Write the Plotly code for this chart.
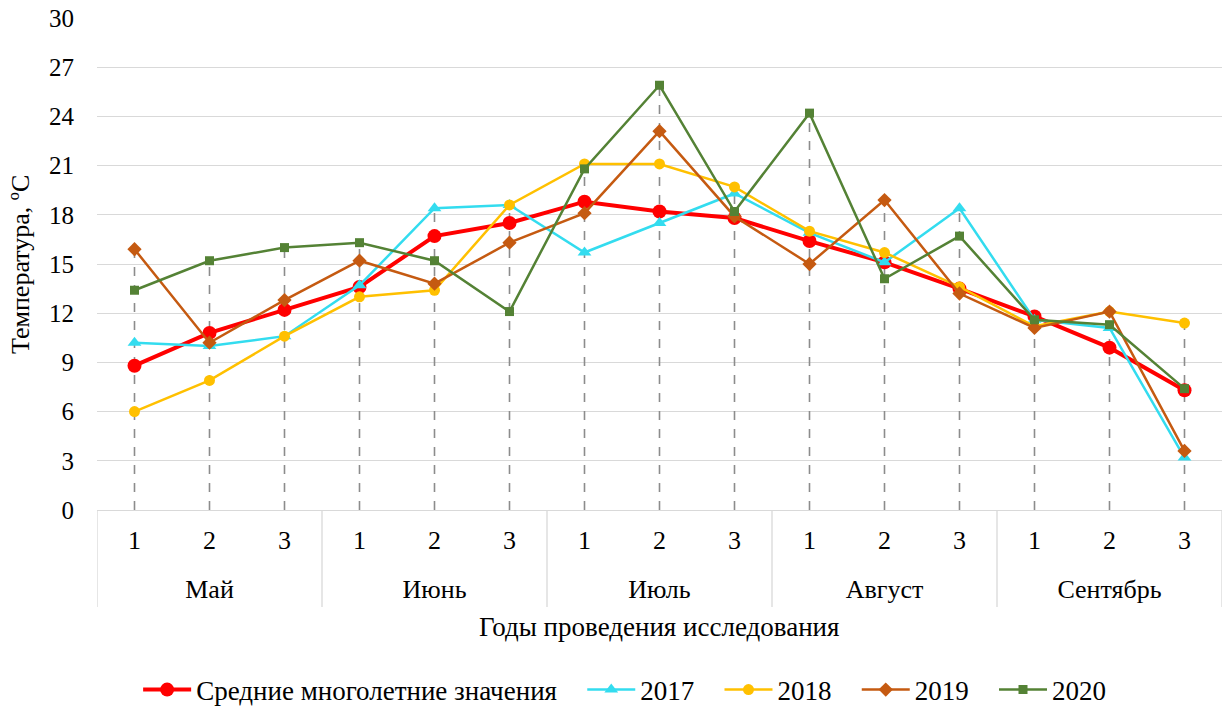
import plotly.graph_objects as go

months = ["Май", "Июнь", "Июль", "Август", "Сентябрь"]
decades = ["1", "2", "3"]

avg_vals = [8.8, 10.8, 12.2, 13.6, 16.7, 17.5, 18.8, 18.2, 17.8, 16.4, 15.1, 13.5, 11.8, 9.9, 7.3]
y2017 = [10.2, 10.0, 10.6, 13.7, 18.4, 18.6, 15.7, 17.5, 19.3, 16.9, 15.1, 18.4, 11.6, 11.1, 3.2]
y2018 = [6.0, 7.9, 10.6, 13.0, 13.4, 18.6, 21.1, 21.1, 19.7, 17.0, 15.7, 13.6, 11.2, 12.1, 11.4]
y2019 = [15.9, 10.2, 12.8, 15.2, 13.8, 16.3, 18.1, 23.1, 17.9, 15.0, 18.9, 13.2, 11.1, 12.1, 3.6]
y2020 = [13.4, 15.2, 16.0, 16.3, 15.2, 12.1, 20.8, 25.9, 18.2, 24.2, 14.1, 16.7, 11.6, 11.3, 7.4]

series_names = ["Средние многолетние значения", "2017", "2018", "2019", "2020"]
y_ticks = [0, 3, 6, 9, 12, 15, 18, 21, 24, 27, 30]

n = len(months) * len(decades)
xi = list(range(n))                       # category index positions
dec_labels = [d for _ in months for d in decades]
month_centers = [i * len(decades) + 1 for i in range(len(months))]
dividers = [i * len(decades) - 0.5 for i in range(len(months) + 1)]

FONT = "Liberation Serif, Times New Roman, serif"
GRID = "#d9d9d9"
PAD = "\u00a0\u00a0\u00a0"
fig = go.Figure()

all_series = [avg_vals, y2017, y2018, y2019, y2020]
# drop lines from highest point to the axis
for i in xi:
    top = max(s[i] for s in all_series)
    fig.add_trace(go.Scatter(
        x=[i, i], y=[0, top], mode="lines",
        line=dict(color="#8c8c8c", width=1.6, dash="dash"),
        showlegend=False, hoverinfo="skip"))

styles = [
    dict(color="#ff0000", width=4, symbol="circle", size=14),
    dict(color="#33dcef", width=2.5, symbol="triangle-up", size=12),
    dict(color="#ffc000", width=2.5, symbol="circle", size=11),
    dict(color="#c55a11", width=2.5, symbol="diamond", size=11),
    dict(color="#548235", width=2.5, symbol="square", size=9),
]
for k, (name, vals, st) in enumerate(zip(series_names, all_series, styles)):
    label = name + (PAD if k < len(series_names) - 1 else "")
    fig.add_trace(go.Scatter(
        x=xi, y=vals, mode="lines+markers", name=label,
        line=dict(color=st["color"], width=st["width"]),
        marker=dict(color=st["color"], symbol=st["symbol"], size=st["size"])))

# invisible trace to activate the month-label axis
fig.add_trace(go.Scatter(x=month_centers, y=[None] * len(months), xaxis="x2",
                         showlegend=False, hoverinfo="skip", mode="markers"))

shapes = [dict(type="line", xref="x", yref="paper", x0=d, x1=d, y0=0, y1=-0.197,
               line=dict(color=GRID, width=1.3)) for d in dividers]

fig.update_layout(
    width=1230, height=708,
    margin=dict(l=97, r=8, t=18, b=198, autoexpand=False),
    plot_bgcolor="white", paper_bgcolor="white",
    font=dict(family=FONT, size=26, color="#000000"),
    legend=dict(orientation="h", x=0.469, xanchor="center", y=-0.366, yanchor="middle",
                font=dict(family=FONT, size=27, color="#000000"), traceorder="normal",
                itemwidth=48),
    shapes=shapes,
    annotations=[
        dict(text="Годы проведения исследования", xref="paper", yref="paper",
             x=0.5, y=-0.238, xanchor="center", yanchor="middle", showarrow=False,
             font=dict(family=FONT, size=27)),
        dict(text="Температура, ºС", xref="paper", yref="paper", textangle=-90,
             x=-0.0685, y=0.5, xanchor="center", yanchor="middle", showarrow=False,
             font=dict(family=FONT, size=26)),
    ],
    xaxis2=dict(overlaying="x", side="bottom", anchor="y", range=[-0.5, n - 0.5],
                tickvals=month_centers, ticktext=months, showgrid=False, showline=False,
                zeroline=False, ticks="", ticklabelstandoff=61,
                tickfont=dict(family=FONT, size=26)),
)
fig.update_yaxes(range=[0, 30], tickvals=y_ticks, showgrid=True, gridcolor=GRID,
                 gridwidth=1.3, zeroline=False, showline=False, ticks="",
                 ticklabelstandoff=22, tickfont=dict(family=FONT, size=25))
fig.layout.xaxis.update(range=[-0.5, n - 0.5], tickvals=xi, ticktext=dec_labels,
                        showgrid=False, showline=True, linecolor=GRID, linewidth=1.3,
                        zeroline=False, ticks="", ticklabelstandoff=7,
                        tickfont=dict(family=FONT, size=26))

fig.write_html("out.html", config={"displayModeBar": False},
               post_script="document.body.style.margin='0';document.body.style.overflow='hidden';")
